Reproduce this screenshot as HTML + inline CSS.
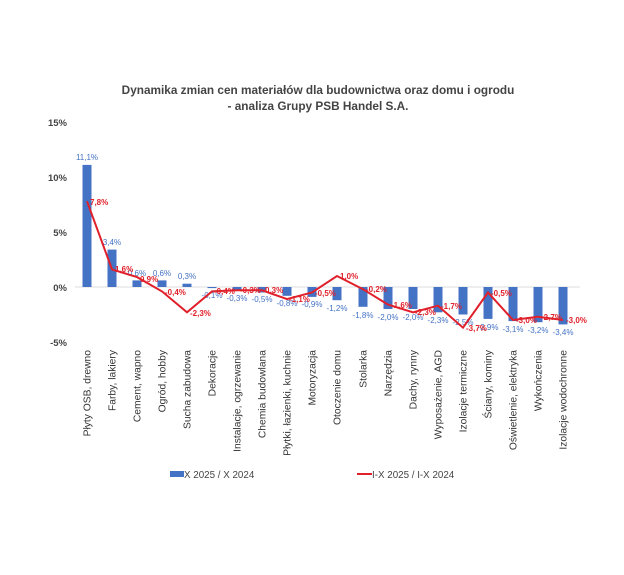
<!DOCTYPE html>
<html><head><meta charset="utf-8"><style>
body{margin:0;background:#fff;}
svg{display:block;font-family:"Liberation Sans","DejaVu Sans",sans-serif;}
.b{fill:#4472c4;font-size:8px;text-anchor:middle}
.r{fill:#e0202a;font-size:8px;font-weight:bold}
.c{font-size:10.3px;fill:#333;text-anchor:end}
.ax{font-size:9.5px;fill:#444;text-anchor:end;font-weight:bold}
</style></head><body>
<svg width="624" height="575" viewBox="0 0 624 575">
<rect x="0" y="0" width="624" height="575" fill="#fff"/>
<text x="318" y="94" text-anchor="middle" font-size="11.8" font-weight="bold" fill="#444">Dynamika zmian cen materiałów dla budownictwa oraz domu i ogrodu</text>
<text x="318" y="110" text-anchor="middle" font-size="11.8" font-weight="bold" fill="#444">- analiza Grupy PSB Handel S.A.</text>
<g class="ax"><text x="67" y="126">15%</text><text x="67" y="181">10%</text><text x="67" y="236">5%</text><text x="67" y="291">0%</text><text x="67" y="346">-5%</text></g>
<line x1="75" y1="287" x2="580" y2="287" stroke="#ddd" stroke-width="1"/>
<g fill="#4472c4">
<rect x="82.5" y="164.9" width="9" height="122.1"/><rect x="107.5" y="249.6" width="9" height="37.4"/>
<rect x="132.5" y="280.4" width="9" height="6.6"/><rect x="157.5" y="280.4" width="9" height="6.6"/>
<rect x="182.5" y="283.7" width="9" height="3.3"/><rect x="207.5" y="287" width="9" height="1.1"/>
<rect x="232.5" y="287" width="9" height="3.3"/><rect x="257.5" y="287" width="9" height="5.5"/>
<rect x="282.5" y="287" width="9" height="8.8"/><rect x="307.5" y="287" width="9" height="9.9"/>
<rect x="332.5" y="287" width="9" height="13.2"/><rect x="358.5" y="287" width="9" height="19.8"/>
<rect x="383.5" y="287" width="9" height="22"/><rect x="408.5" y="287" width="9" height="22"/>
<rect x="433.5" y="287" width="9" height="25.3"/><rect x="458.5" y="287" width="9" height="27.5"/>
<rect x="483.5" y="287" width="9" height="31.9"/><rect x="508.5" y="287" width="9" height="34.1"/>
<rect x="533.5" y="287" width="9" height="35.2"/><rect x="558.5" y="287" width="9" height="37.4"/>
</g>
<g class="b">
<text x="87" y="160">11,1%</text><text x="112" y="245">3,4%</text><text x="137" y="276">0,6%</text><text x="162" y="276">0,6%</text><text x="187" y="279">0,3%</text>
<text x="212" y="298">-0,1%</text><text x="237" y="301">-0,3%</text><text x="262" y="302">-0,5%</text><text x="287" y="306">-0,8%</text><text x="312" y="307">-0,9%</text>
<text x="337" y="311">-1,2%</text><text x="363" y="318">-1,8%</text><text x="388" y="320">-2,0%</text><text x="413" y="320">-2,0%</text><text x="438" y="323">-2,3%</text>
<text x="463" y="325">-2,5%</text><text x="488" y="330">-2,9%</text><text x="513" y="332">-3,1%</text><text x="538" y="333">-3,2%</text><text x="563" y="335">-3,4%</text>
</g>
<polyline fill="none" stroke="#e0202a" stroke-width="2" points="87,201.2 112,269.4 137,277.1 162,291.4 187,312.3 212,291.4 237,290.3 262,290.3 287,299.1 312,292.5 337,276 363,289.2 388,304.6 413,312.3 438,305.7 463,327.7 488,292.5 513,320 538,316.7 563,320"/>
<g class="r">
<text x="90" y="205">7,8%</text><text x="115" y="272">1,6%</text><text x="140" y="282">0,9%</text><text x="165" y="295">-0,4%</text><text x="190" y="316">-2,3%</text>
<text x="214" y="294">-0,4%</text><text x="240" y="293">-0,3%</text><text x="265" y="293">0,3%</text><text x="289" y="302">-1,1%</text><text x="315" y="296">-0,5%</text>
<text x="340" y="279">1,0%</text><text x="366" y="292">-0,2%</text><text x="391" y="308">-1,6%</text><text x="415" y="315">-2,3%</text><text x="441" y="309">-1,7%</text>
<text x="466" y="331">-3,7%</text><text x="491" y="296">-0,5%</text><text x="516" y="323">-3,0%</text><text x="541" y="320">-2,7%</text><text x="566" y="323">-3,0%</text>
</g>
<g class="c">
<text transform="translate(90.5,350) rotate(-90)">Płyty OSB, drewno</text>
<text transform="translate(115.5,350) rotate(-90)">Farby, lakiery</text>
<text transform="translate(140.5,350) rotate(-90)">Cement, wapno</text>
<text transform="translate(165.5,350) rotate(-90)">Ogród, hobby</text>
<text transform="translate(190.5,350) rotate(-90)">Sucha zabudowa</text>
<text transform="translate(215.5,350) rotate(-90)">Dekoracje</text>
<text transform="translate(240.5,350) rotate(-90)">Instalacje, ogrzewanie</text>
<text transform="translate(265.5,350) rotate(-90)">Chemia budowlana</text>
<text transform="translate(290.5,350) rotate(-90)">Płytki, łazienki, kuchnie</text>
<text transform="translate(315.5,350) rotate(-90)">Motoryzacja</text>
<text transform="translate(340.5,350) rotate(-90)">Otoczenie domu</text>
<text transform="translate(366.5,350) rotate(-90)">Stolarka</text>
<text transform="translate(391.5,350) rotate(-90)">Narzędzia</text>
<text transform="translate(416.5,350) rotate(-90)">Dachy, rynny</text>
<text transform="translate(441.5,350) rotate(-90)">Wyposażenie, AGD</text>
<text transform="translate(466.5,350) rotate(-90)">Izolacje termiczne</text>
<text transform="translate(491.5,350) rotate(-90)">Ściany, kominy</text>
<text transform="translate(516.5,350) rotate(-90)">Oświetlenie, elektryka</text>
<text transform="translate(541.5,350) rotate(-90)">Wykończenia</text>
<text transform="translate(566.5,350) rotate(-90)">Izolacje wodochronne</text>
</g>
<rect x="170" y="471" width="14" height="6" fill="#4472c4"/>
<text x="184" y="478" font-size="9.8" fill="#444">X 2025 / X 2024</text>
<line x1="357" y1="474" x2="372" y2="474" stroke="#e0202a" stroke-width="2"/>
<text x="372" y="478" font-size="9.8" fill="#444">I-X 2025 / I-X 2024</text>
</svg>
</body></html>
